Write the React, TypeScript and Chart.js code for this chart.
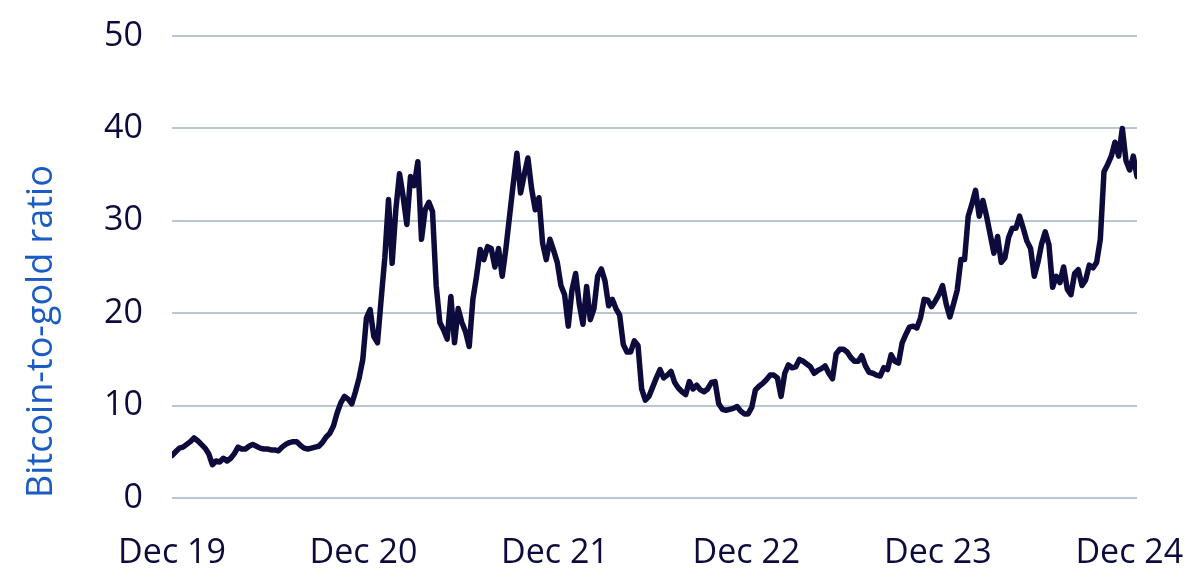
import { useEffect, useRef } from 'react';
import { Chart, registerables } from 'chart.js';

Chart.register(...registerables);

// weekly bitcoin-to-gold ratio, starting Dec 2019
const ratioDec19 = [
  4.6, 5.0, 5.4, 5.5, 5.8, 6.1, 6.5, 6.2, 5.8, 5.4,
  4.8, 3.6, 4.0, 3.9, 4.3, 4.0, 4.3, 4.8, 5.5, 5.3,
  5.3, 5.6, 5.8, 5.6, 5.4, 5.3, 5.3, 5.2, 5.2, 5.1,
  5.5, 5.8, 6.0, 6.1, 6.1, 5.7, 5.4, 5.3, 5.4, 5.5,
  5.6, 6.0, 6.6, 7.0, 7.8, 9.2, 10.3, 11.0, 10.7, 10.2,
  11.5, 13.0,
];
const ratioDec20 = [
  15.0, 19.5, 20.4, 17.5, 16.8, 21.5, 26.0, 32.3,
  25.4, 31.2, 35.1, 32.6, 29.6, 34.8, 33.8, 36.4, 28.0, 31.2,
  32.0, 31.0, 23.0, 19.0, 18.2, 17.2, 21.8, 16.8, 20.5, 19.0,
  18.0, 16.4, 21.5, 24.0, 26.9, 25.8, 27.2, 27.0, 25.0, 27.0,
  24.0, 27.0, 30.5, 34.0, 37.3, 33.0, 35.0, 36.8, 33.5, 31.2,
  32.5, 27.6, 25.8, 28.0,
];
const ratioDec21 = [
  26.8, 25.5, 23.0, 22.0, 18.6, 22.5,
  24.3, 21.0, 18.8, 22.9, 19.3, 20.5, 24.0, 24.8, 23.5, 20.8,
  21.5, 20.5, 19.8, 16.6, 15.8, 15.8, 17.0, 16.5, 11.8, 10.6,
  11.0, 12.0, 13.0, 13.9, 13.0, 13.3, 13.7, 12.5, 11.9, 11.5,
  11.2, 12.6, 11.8, 12.2, 11.7, 11.5, 11.8, 12.5, 12.6, 10.2,
  9.6, 9.5, 9.6, 9.7, 9.9, 9.4,
];
const ratioDec22 = [
  9.1, 9.1, 9.8, 11.7,
  12.1, 12.4, 12.8, 13.3, 13.3, 13.0, 11.0, 13.5, 14.4, 14.1,
  14.2, 15.0, 14.8, 14.5, 14.2, 13.5, 13.8, 14.0, 14.3, 13.5,
  12.9, 15.6, 16.1, 16.1, 15.8, 15.2, 14.8, 14.8, 15.4, 14.3,
  13.6, 13.5, 13.3, 13.2, 14.1, 13.9, 15.5, 14.8, 14.6, 16.8,
  17.7, 18.5, 18.6, 18.4, 19.5, 21.5, 21.4, 20.7,
];
const ratioDec23 = [
  21.3, 22.0,
  23.0, 21.0, 19.6, 21.0, 22.5, 25.8, 25.8, 30.5, 31.8, 33.3,
  30.5, 32.2, 30.5, 28.5, 26.5, 28.3, 25.5, 26.0, 28.2, 29.2,
  29.2, 30.5, 29.2, 27.8, 27.0, 24.0, 25.5, 27.5, 28.8, 27.4,
  22.8, 24.0, 23.3, 25.0, 22.6, 22.0, 24.3, 24.7, 23.0, 23.6,
  25.2, 24.9, 25.5, 28.0, 35.3, 36.1, 37.0, 38.5, 37.0, 40.0,
  36.5, 35.5, 37.0, 34.8,
];

const ratioWeekly = [...ratioDec19, ...ratioDec20, ...ratioDec21, ...ratioDec22, ...ratioDec23];

const tickLabels = ['Dec 19', 'Dec 20', 'Dec 21', 'Dec 22', 'Dec 23', 'Dec 24'];
const weeksPerYear = 52.18;

const navy = '#0d0b3c';
const titleBlue = '#1b5cc4';
const gridColor = '#bac6d2';
const fontFamily = '"Open Sans", "Noto Sans", sans-serif';

export default function App() {
  const canvasRef = useRef<HTMLCanvasElement>(null);
  const chartRef = useRef<Chart | null>(null);

  useEffect(() => {
    if (!canvasRef.current) return;

    const points = ratioWeekly.map((v, i) => ({ x: i, y: v }));

    chartRef.current = new Chart(canvasRef.current, {
      type: 'line',
      data: {
        datasets: [
          {
            data: points,
            borderColor: navy,
            borderWidth: 5.5,
            pointRadius: 0,
            tension: 0,
            borderJoinStyle: 'round',
            borderCapStyle: 'round',
          },
        ],
      },
      options: {
        animation: false,
        responsive: true,
        maintainAspectRatio: false,
        layout: { padding: { top: 36, right: 63, left: 0, bottom: 0 } },
        plugins: {
          legend: { display: false },
          tooltip: { enabled: false },
        },
        scales: {
          x: {
            type: 'linear',
            min: 0,
            max: ratioWeekly.length - 1,
            grid: { display: false },
            border: { display: false },
            afterBuildTicks: (scale) => {
              scale.ticks = tickLabels.map((_, i) => ({ value: i * weeksPerYear }));
            },
            afterFit: (scale) => {
              scale.height = 81;
              scale.paddingLeft = 0;
              scale.paddingRight = 0;
            },
            ticks: {
              autoSkip: false,
              maxRotation: 0,
              padding: 27,
              color: navy,
              font: { family: fontFamily, size: 34 },
              callback: (_value, index) => tickLabels[index],
            },
          },
          y: {
            min: 0,
            max: 50,
            grid: { color: gridColor, lineWidth: 2, drawTicks: false },
            border: { display: false },
            afterFit: (scale) => {
              scale.width = 172;
              scale.paddingTop = 0;
              scale.paddingBottom = 0;
            },
            ticks: {
              stepSize: 10,
              padding: 29,
              color: navy,
              font: { family: fontFamily, size: 34 },
            },
            title: {
              display: true,
              text: 'Bitcoin-to-gold ratio',
              align: 'start',
              color: titleBlue,
              padding: { top: 20, bottom: 0 },
              font: { family: fontFamily, size: 36 },
            },
          },
        },
      },
    });

    return () => {
      if (chartRef.current) {
        chartRef.current.destroy();
        chartRef.current = null;
      }
    };
  }, []);

  return (
    <div style={{ position: 'absolute', left: 0, top: 0, width: 1200, height: 579, background: '#fff' }}>
      <canvas ref={canvasRef} />
    </div>
  );
}
